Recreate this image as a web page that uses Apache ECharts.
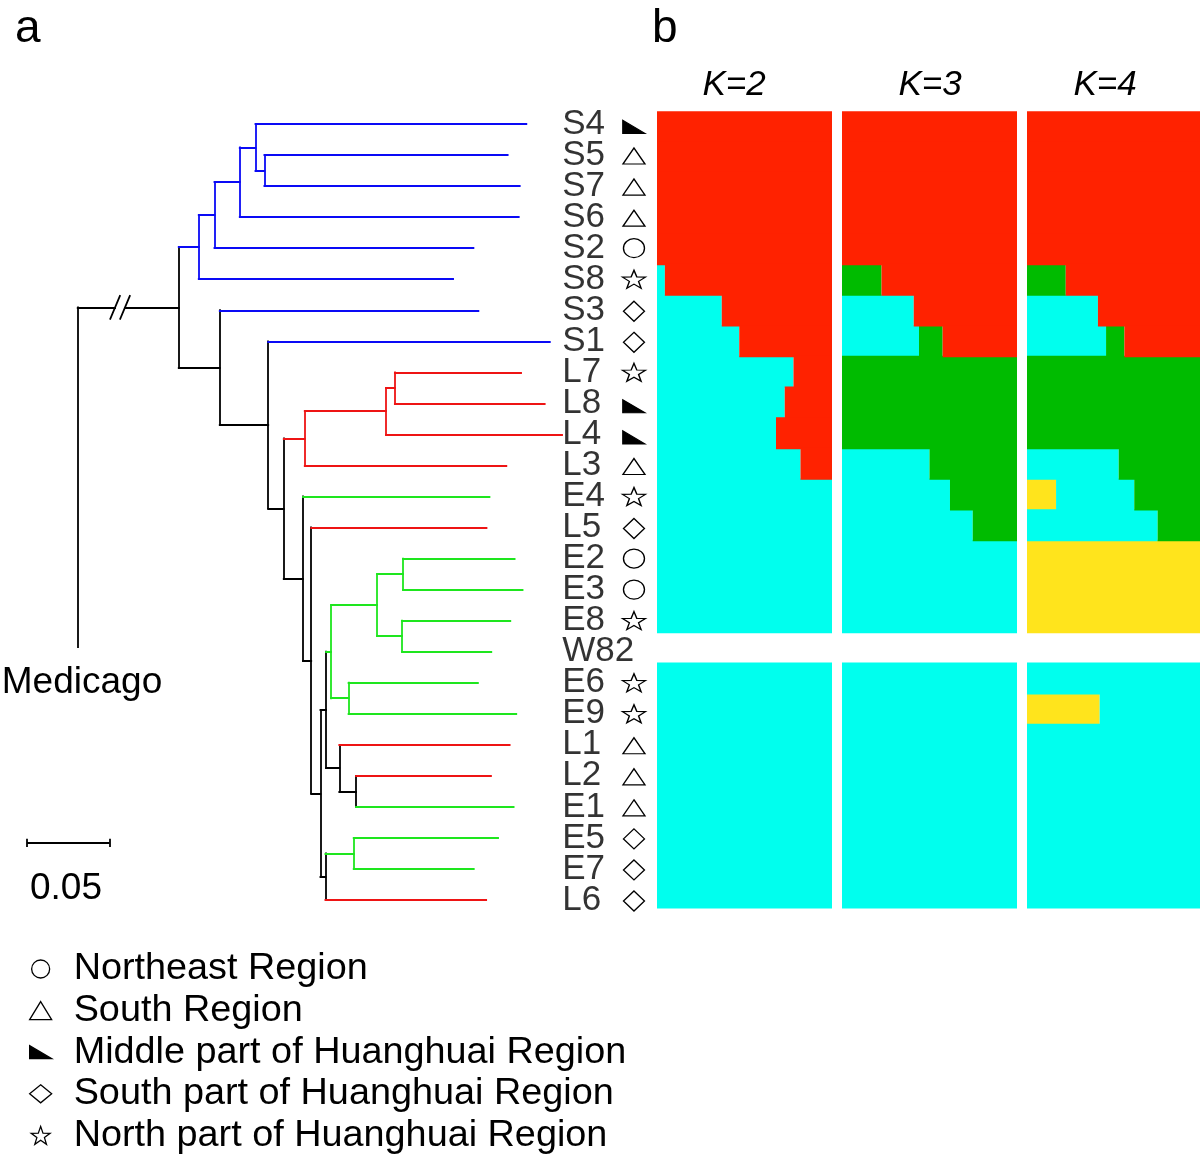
<!DOCTYPE html>
<html><head><meta charset="utf-8">
<script src="https://cdn.jsdelivr.net/npm/echarts@6/dist/echarts.min.js"></script>
<style>html,body{margin:0;padding:0;background:#fff}#c{width:1200px;height:1154px}</style>
</head><body><div id="c"></div>
<script>
// ---------------- DATA ----------------
const leafNames = ['S4','S5','S7','S6','S2','S8','S3','S1','L7','L8','L4','L3','E4','L5','E2','E3','E8','W82','E6','E9','L1','L2','E1','E5','E7','L6'];
const regionNames = ['Northeast Region','South Region','Middle part of Huanghuai Region','South part of Huanghuai Region','North part of Huanghuai Region'];
// region index per leaf (null = no symbol)
const leafRegion = [2,1,1,1,0,4,3,3,4,2,2,1,4,3,0,0,4,null,4,4,1,1,1,3,3,3];
// Neighbour-joining tree, Newick sub-clades (branch lengths in substitutions/site)
const cladeY  = "(S5:0.1471,S7:0.1544)";
const cladeX  = "(S4:0.1638," + cladeY + ":0.0054)";
const cladeW  = "(" + cladeX + ":0.0095,S6:0.1687)";
const cladeV  = "(" + cladeW + ":0.0153,S2:0.1566)";
const cladeU  = "(" + cladeV + ":0.0095,S8:0.1538)";
const cladeH  = "(L7:0.0763,L8:0.0906)";
const cladeG  = "(" + cladeH + ":0.0054,L4:0.1065)";
const cladeE  = "(" + cladeG + ":0.0491,L3:0.1219)";
const cladeQ  = "(E2:0.0675,E3:0.0723)";
const cladeR  = "(E8:0.0655,W82:0.0540)";
const cladeO  = "(" + cladeQ + ":0.0157," + cladeR + ":0.0151)";
const cladeP  = "(E6:0.0782,E9:0.1014)";
const cladeM  = "(" + cladeO + ":0.0278," + cladeP + ":0.0106)";
const cladeS  = "(L2:0.0816,E1:0.0953)";
const cladeN  = "(L1:0.1030," + cladeS + ":0.0101)";
const cladeK  = "(" + cladeM + ":0.0030," + cladeN + ":0.0080)";
const cladeT  = "(E5:0.0873,E7:0.0726)";
const cladeLn = "(" + cladeT + ":0.0171,L6:0.0972)";
const cladeJ  = "(" + cladeK + ":0.0034," + cladeLn + ":0.0030)";
const cladeI  = "(L5:0.1060," + cladeJ + ":0.0056)";
const cladeF  = "(E4:0.1128," + cladeI + ":0.0050)";
const cladeD  = "(" + cladeE + ":0.0127," + cladeF + ":0.0116)";
const cladeC  = "(S1:0.1703," + cladeD + ":0.0094)";
const cladeB  = "(S3:0.1564," + cladeC + ":0.0293)";
const newick  = "(" + cladeU + ":0.0121," + cladeB + ":0.0248);";
const rootBranch = 0.0611;      // broken (//) branch to Medicago outgroup
const scaleBarLength = 0.05;
const scaleBarText = '0.05';
// STRUCTURE membership (rows = leafNames, W82 not analysed)
const k2Cyan   = [0,0,0,0,0,0.045,0.37,0.47,0.78,0.73,0.68,0.82,1,1,1,1,1,null,1,1,1,1,1,1,1,1];
const k2Red    = [1,1,1,1,1,0.955,0.63,0.53,0.22,0.27,0.32,0.18,0,0,0,0,0,null,0,0,0,0,0,0,0,0];
const k3Cyan   = [0,0,0,0,0,0,0.41,0.44,0,0,0,0.50,0.617,0.747,1,1,1,null,1,1,1,1,1,1,1,1];
const k3Green  = [0,0,0,0,0,0.226,0,0.135,1,1,1,0.50,0.383,0.253,0,0,0,null,0,0,0,0,0,0,0,0];
const k3Red    = [1,1,1,1,1,0.774,0.59,0.425,0,0,0,0,0,0,0,0,0,null,0,0,0,0,0,0,0,0];
const k4Yellow = [0,0,0,0,0,0,0,0,0,0,0,0,0.168,0,1,1,1,null,0,0.42,0,0,0,0,0,0];
const k4Cyan   = [0,0,0,0,0,0,0.41,0.457,0,0,0,0.53,0.452,0.755,0,0,0,null,1,0.58,1,1,1,1,1,1];
const k4Green  = [0,0,0,0,0,0.224,0,0.106,1,1,1,0.47,0.38,0.245,0,0,0,null,0,0,0,0,0,0,0,0];
const k4Red    = [1,1,1,1,1,0.776,0.59,0.437,0,0,0,0,0,0,0,0,0,null,0,0,0,0,0,0,0,0];
const kTitles  = ['K=2','K=3','K=4'];

// ---------------- STYLE ----------------
const FONT = 'Liberation Sans, Arial, Helvetica, sans-serif';
const groupColor = {S:'#0a0af5', L:'#ee1414', E:'#1ee61e', W:'#1ee61e'};
const C = {red:'#ff2200', cyan:'#00ffee', green:'#00bb00', yellow:'#ffe41c'};
const STAR = 'path://M50,0L61.76,33.82L97.55,34.55L69.02,56.18L79.39,90.45L50,70L20.61,90.45L30.98,56.18L2.45,34.55L38.24,33.82Z';
const regionSymbol = ['circle','triangle','path://M0,0L0,13L22,13Z','diamond',STAR];
const regionSize = [[21,19],[22,16],[22,13],[21,20],[23,18]];
const regionFill = ['#fff','#fff','#000','#fff','#fff'];
const regionOffset = [[0,0],[0,1],[0,3],[0,1],[0,0]];

// ---------------- TREE LAYOUT ----------------
function parseNewick(s){
  let i=0;
  function node(){
    const n={children:[]};
    if(s[i]==='('){ i++; n.children.push(node()); while(s[i]===','){ i++; n.children.push(node()); } i++; }
    let name=''; while(i<s.length && !',():;'.includes(s[i])) name+=s[i++];
    n.name=name; n.len=0;
    if(s[i]===':'){ i++; let num=''; while(i<s.length && !',();'.includes(s[i])) num+=s[i++]; n.len=parseFloat(num); }
    return n;
  }
  return node();
}
const tree = parseNewick(newick);
function place(n, depth){
  n.depth=depth;
  if(!n.children.length){ n.y=leafNames.indexOf(n.name); n.groups=new Set([n.name[0]]); }
  else {
    n.children.forEach(c=>place(c, depth+c.len));
    n.y=(n.children[0].y+n.children[n.children.length-1].y)/2;
    n.groups=new Set(); n.children.forEach(c=>c.groups.forEach(g=>n.groups.add(g)));
  }
  const cols=new Set([...n.groups].map(g=>groupColor[g]));
  n.color = cols.size===1 ? [...cols][0] : '#000';
}
place(tree, rootBranch);
const segs=[];
function emit(n, pd){
  if(pd!=null) segs.push({coords:[[pd,n.y],[n.depth,n.y]], lineStyle:{color:n.color}});
  if(n.children.length){
    segs.push({coords:[[n.depth,n.children[0].y],[n.depth,n.children[n.children.length-1].y]], lineStyle:{color:n.color}});
    n.children.forEach(c=>emit(c,n.depth));
  }
}
emit(tree,null);
// root, broken branch and outgroup (Medicago)
const brk1=0.0226, brk2=0.0286, slashDX=0.0029, slashDY=0.37, medicagoEndY=16.85;
segs.push({coords:[[0,tree.y],[brk1,tree.y]], lineStyle:{color:'#000'}});
segs.push({coords:[[brk2,tree.y],[rootBranch,tree.y]], lineStyle:{color:'#000'}});
[brk1,brk2].forEach(b=>segs.push({coords:[[b-slashDX,tree.y+slashDY],[b+slashDX,tree.y-slashDY]], lineStyle:{color:'#000'}}));
segs.push({coords:[[0,tree.y],[0,medicagoEndY]], lineStyle:{color:'#000'}});
// scale bar
const sbX=-0.0307, sbY=23.16, sbT=0.13;
const scaleSegs=[
  {coords:[[sbX,sbY],[sbX+scaleBarLength,sbY]]},
  {coords:[[sbX,sbY-sbT],[sbX,sbY+sbT]]},
  {coords:[[sbX+scaleBarLength,sbY-sbT],[sbX+scaleBarLength,sbY+sbT]]}
];

const labelX=0.293, symX=0.3364;

// ---------------- CHART ----------------
const chart = echarts.init(document.getElementById('c'), null, {renderer:'canvas'});
const grids=[
  {left:0, top:108.5, width:673, height:807},
  {left:657, top:111.2, width:175, height:797.3},
  {left:842, top:111.2, width:175, height:797.3},
  {left:1027, top:111.2, width:173, height:797.3}
];
const xAxes=[{gridIndex:0,type:'value',min:-0.047,max:0.36,show:false}];
const yAxes=[{gridIndex:0,type:'value',min:-0.5,max:25.5,inverse:true,show:false}];
for(let k=1;k<=3;k++){
  xAxes.push({gridIndex:k,type:'value',min:0,max:1,show:false});
  yAxes.push({gridIndex:k,type:'category',data:leafNames,inverse:true,show:false});
}
const series=[
  {type:'lines', coordinateSystem:'cartesian2d', xAxisIndex:0, yAxisIndex:0, silent:true,
   lineStyle:{width:1.8, opacity:1, cap:'square'}, data:segs, z:3},
  {type:'lines', coordinateSystem:'cartesian2d', xAxisIndex:0, yAxisIndex:0, silent:true,
   lineStyle:{width:1.8, color:'#000', opacity:1}, data:scaleSegs, z:3},
  {type:'scatter', xAxisIndex:0, yAxisIndex:0, silent:true, symbolSize:0.1,
   itemStyle:{color:'rgba(0,0,0,0)'},
   data:leafNames.map((n,i)=>[labelX,i]),
   label:{show:true, position:'right', distance:0, formatter:p=>leafNames[p.dataIndex],
          fontSize:35, fontFamily:FONT, color:'#000'}, z:4}
];
regionNames.forEach((r,ri)=>{
  series.push({type:'scatter', name:r, xAxisIndex:0, yAxisIndex:0, silent:true,
    symbol:regionSymbol[ri], symbolSize:regionSize[ri], symbolOffset:regionOffset[ri],
    itemStyle:{color:regionFill[ri], borderColor:'#000', borderWidth:1.3, opacity:1},
    data:leafNames.map((n,i)=>leafRegion[i]===ri?[symX,i]:null).filter(d=>d), z:5});
});
const structure=[
  [['cyan',k2Cyan],['red',k2Red]],
  [['cyan',k3Cyan],['green',k3Green],['red',k3Red]],
  [['yellow',k4Yellow],['cyan',k4Cyan],['green',k4Green],['red',k4Red]]
];
structure.forEach((lst,k)=>{
  lst.forEach(([col,arr],si)=>{
    series.push({type:'bar', xAxisIndex:k+1, yAxisIndex:k+1, stack:'K'+k, silent:true,
      barWidth:32,                       // slightly wider than a row: no seams between rows
      data:arr.map(v=>v===0?null:v),     // empty segments are not drawn
      itemStyle:{color:C[col], borderWidth:0}});
  });
});

const txt=(text,x,y,size,align)=>({type:'text', x, y, silent:true,
  style:{text, fontSize:size, fontFamily:FONT, fill:'#000', align, verticalAlign:'middle'}});
const kX=[734,930,1105];
const graphics=[
  txt('a',15,29,46,'left'),
  txt('b',652,29,46,'left'),
  txt('Medicago',82,683,37,'center'),
  txt(scaleBarText,66,889,37,'center')
];
kTitles.forEach((t,i)=>{ const g=txt(t,kX[i],85,35,'center'); g.style.fontStyle='italic'; graphics.push(g); });

chart.setOption({
  animation:false,
  backgroundColor:'#fff',
  grid:grids, xAxis:xAxes, yAxis:yAxes, series,
  legend:{data:regionNames, orient:'vertical', left:29, top:950, height:240, padding:0,
    itemWidth:22, itemHeight:18, itemGap:3.6, selectedMode:false,
    itemStyle:{borderWidth:1.3, borderColor:'#000'},
    textStyle:{fontSize:37.8, fontFamily:FONT, color:'#000', padding:[0,0,0,17]}},
  graphic:graphics
});
</script>
</body></html>
